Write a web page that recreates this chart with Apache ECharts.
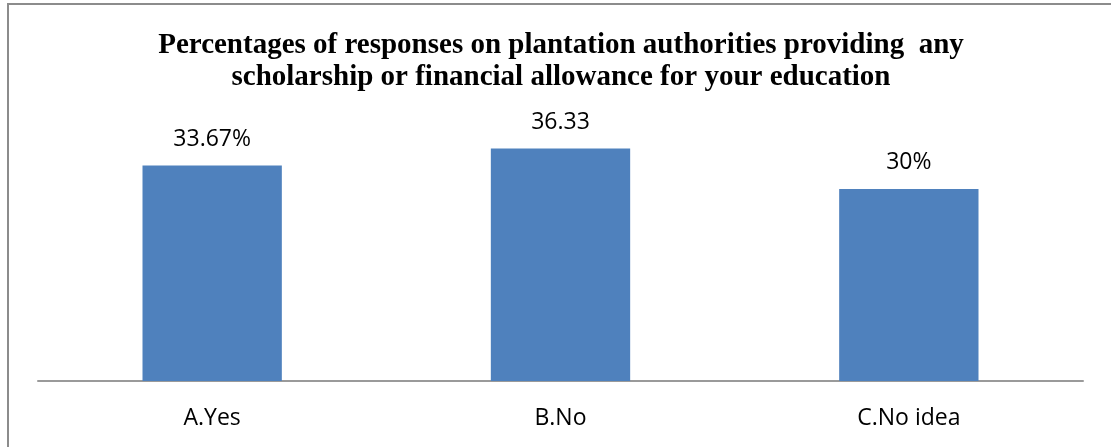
<!DOCTYPE html>
<html>
<head>
<meta charset="utf-8">
<style>
  html, body { margin: 0; padding: 0; background: #fff; }
  #chart { width: 1111px; height: 447px; }
</style>
<script src="https://cdn.jsdelivr.net/npm/echarts@6/dist/echarts.min.js"></script>
</head>
<body>
<div id="chart"></div>
<script>
// Survey responses (percent)
const categories = ['A.Yes', 'B.No', 'C.No idea'];
const values = [33.67, 36.33, 30];
const valueLabels = ['33.67%', '36.33', '30%'];
const titleLines = [
  'Percentages of responses on plantation authorities providing  any',
  'scholarship or financial allowance for your education'
];

const chart = echarts.init(document.getElementById('chart'), null, { renderer: 'canvas' });

chart.setOption({
  animation: false,
  backgroundColor: '#ffffff',
  title: {
    text: titleLines.join('\n'),
    left: 556,
    textAlign: 'center',
    top: 25,
    textStyle: {
      fontFamily: '"Liberation Serif", "Times New Roman", serif',
      fontWeight: 'bold',
      fontSize: 29,
      lineHeight: 32,
      color: '#000000'
    }
  },
  graphic: [
    { type: 'line', shape: { x1: 7, y1: 4, x2: 1111, y2: 4 }, style: { stroke: '#8c8c8c', lineWidth: 2 } },
    { type: 'line', shape: { x1: 8, y1: 4, x2: 8, y2: 447 }, style: { stroke: '#8c8c8c', lineWidth: 2 } }
  ],
  grid: { left: 38, right: 28, top: 125, bottom: 66 },
  xAxis: {
    type: 'category',
    data: categories,
    axisLine: { lineStyle: { color: '#9a9a9a', width: 2 } },
    axisTick: { show: false },
    axisLabel: {
      margin: 26,
      fontFamily: '"Open Sans", sans-serif',
      fontSize: 23,
      color: '#000000'
    }
  },
  yAxis: {
    type: 'value',
    min: 0,
    max: 40,
    show: false,
    splitLine: { show: false }
  },
  series: [{
    type: 'bar',
    data: values,
    barWidth: '40%',
    itemStyle: { color: '#4F81BD' },
    label: {
      show: true,
      position: 'top',
      distance: 15,
      fontFamily: '"Open Sans", sans-serif',
      fontSize: 23,
      color: '#000000',
      formatter: p => valueLabels[p.dataIndex]
    }
  }]
});
</script>
</body>
</html>
